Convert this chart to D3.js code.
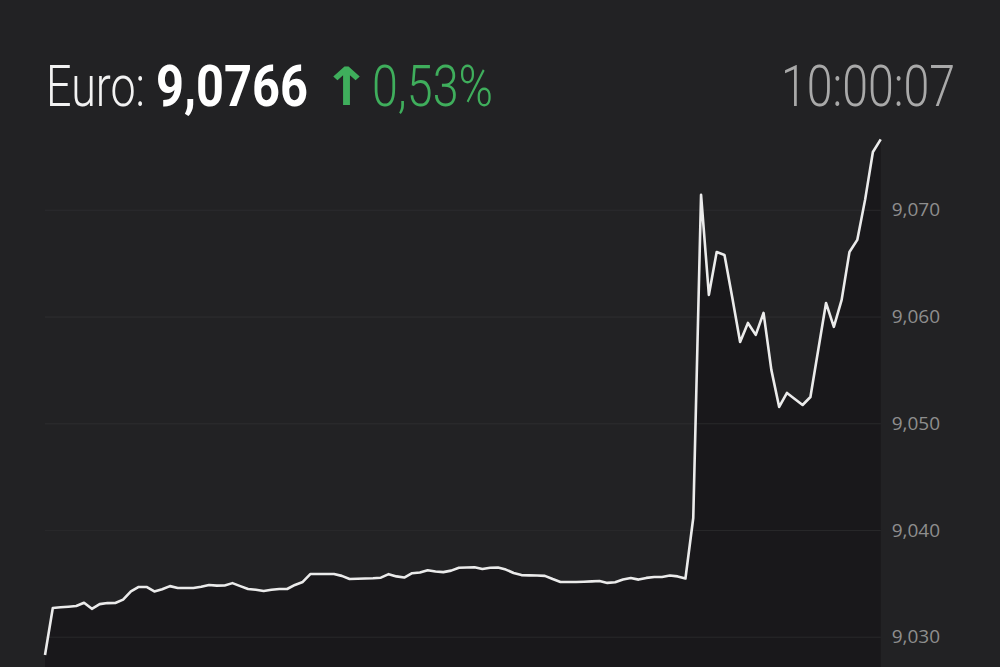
<!DOCTYPE html>
<html>
<head>
<meta charset="utf-8">
<script src="https://cdn.jsdelivr.net/npm/d3@7"></script>
<style>
  html, body { margin: 0; padding: 0; background: #222224; }
  svg { display: block; }
</style>
</head>
<body>
<div id="chart"></div>
<script>
// Euro quote, intraday line
var currency = "Euro:";
var clockText = "10:00:07";
var changePct = 0.53;

// quote values, one per sample, left to right
var quotes = [
  9.02829, 9.03269, 9.03276, 9.03281, 9.03287, 9.03318, 9.03261, 9.03305, 9.03315, 9.03316,
  9.03347, 9.03424, 9.03466, 9.03466, 9.03424, 9.03445, 9.03474, 9.03457, 9.03456, 9.03456,
  9.03468, 9.03484, 9.03479, 9.03480, 9.03502, 9.03474, 9.03447, 9.03440, 9.03428, 9.03440,
  9.03447, 9.03447, 9.03485, 9.03513, 9.03588, 9.03588, 9.03588, 9.03588, 9.03570, 9.03541,
  9.03543, 9.03545, 9.03547, 9.03553, 9.03586, 9.03565, 9.03554, 9.03595, 9.03601, 9.03623,
  9.03611, 9.03605, 9.03619, 9.03646, 9.03649, 9.03651, 9.03634, 9.03646, 9.03648, 9.03629,
  9.03597, 9.03577, 9.03575, 9.03573, 9.03570, 9.03540, 9.03513, 9.03513, 9.03513, 9.03515,
  9.03518, 9.03522, 9.03504, 9.03510, 9.03536, 9.03550, 9.03535, 9.03551, 9.03560, 9.03560,
  9.03573, 9.03565, 9.03545, 9.04112, 9.07140, 9.06203, 9.06605, 9.06577, 9.06175, 9.05762,
  9.05940, 9.05828, 9.06034, 9.05500, 9.05153, 9.05284, 9.05228, 9.05171, 9.05246, 9.05687,
  9.06127, 9.05903, 9.06156, 9.06605, 9.06718, 9.07093, 9.07542, 9.07660
];

var yTicks = [9.030, 9.040, 9.050, 9.060, 9.070];

var W = 1000, H = 667;
var plot = {left: 45, right: 880.7, top: 209.8, bottom: 636.7};

var loc = d3.formatLocale({decimal: ",", thousands: ".", grouping: [3], currency: ["", ""]});
var fmtTick = loc.format(".3f");
var fmtQuote = loc.format(".4f");
var fmtPct = loc.format(".2f");

var svg = d3.select("#chart").append("svg")
  .attr("width", W).attr("height", H)
  .style("background", "#222224");

var x = d3.scaleLinear().domain([0, quotes.length - 1]).range([plot.left, plot.right]);
var y = d3.scaleLinear().domain([9.030, 9.070]).range([plot.bottom, plot.top]);

// grid lines
svg.append("g").attr("class", "grid")
  .attr("transform", "translate(" + plot.left + ",0)")
  .call(d3.axisRight(y).tickValues(yTicks).tickSize(plot.right - plot.left).tickFormat(""))
  .call(function(g){ g.select(".domain").remove(); })
  .selectAll("line").attr("stroke", "#303032").attr("stroke-width", 1);

// area under the line
var area = d3.area()
  .x(function(d, i){ return x(i); })
  .y0(H)
  .y1(function(d){ return y(d); });
svg.append("path").datum(quotes)
  .attr("d", area)
  .attr("fill", "#19181b");

// grid again, faint, over the area
svg.append("g")
  .attr("transform", "translate(" + plot.left + ",0)")
  .call(d3.axisRight(y).tickValues(yTicks).tickSize(plot.right - plot.left).tickFormat(""))
  .call(function(g){ g.select(".domain").remove(); })
  .selectAll("line").attr("stroke", "#29292b").attr("stroke-width", 1);

// the quote line
var line = d3.line()
  .x(function(d, i){ return x(i); })
  .y(function(d){ return y(d); });
svg.append("path").datum(quotes)
  .attr("d", line)
  .attr("fill", "none")
  .attr("stroke", "#ebebeb")
  .attr("stroke-width", 2.6)
  .attr("stroke-linejoin", "round");

// right axis labels
var yAxis = svg.append("g")
  .attr("transform", "translate(" + (plot.right + 11) + ",0)")
  .call(d3.axisRight(y).tickValues(yTicks).tickSize(0).tickPadding(0).tickFormat(fmtTick));
yAxis.select(".domain").remove();
yAxis.selectAll("text")
  .attr("fill", "#8e8e8e")
  .style("font-family", "'Open Sans', 'Noto Sans', sans-serif")
  .style("font-size", "19px");

// header: squeeze each text horizontally to the width it has in the picture
var hfont = "Roboto, 'Noto Sans', sans-serif";
function headText(str, left, width, opts) {
  var t = svg.append("text")
    .style("font-family", opts.family || hfont)
    .style("font-size", (opts.size || 57) + "px")
    .style("font-weight", opts.weight || 300)
    .attr("fill", opts.color)
    .text(str);
  var w = t.node().getComputedTextLength();
  var sx = width / w;
  t.attr("transform", "translate(" + left + "," + (opts.base || 106) + ") scale(" + sx + "," + (opts.sy || 1) + ")");
  return t;
}
headText(currency, 46, 99, {color: "#f2f2f2"});
headText(fmtQuote(quotes[quotes.length - 1]), 156, 152, {color: "#ffffff", weight: 700});
headText("\u2191", 322, 49, {color: "#3fae5c", family: "'DejaVu Sans', sans-serif", weight: 700, size: 50, base: 105, sy: 1.05});
headText(fmtPct(changePct) + "%", 372, 121, {color: "#3fae5c"});
headText(clockText, 781, 174, {color: "#a9a9a9"});
</script>
</body>
</html>
